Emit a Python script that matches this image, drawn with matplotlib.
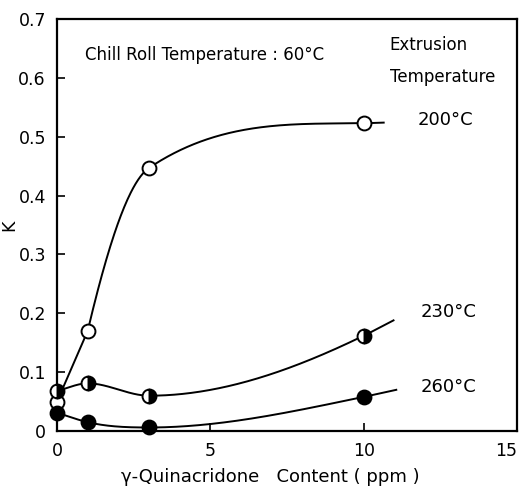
import numpy as np
import matplotlib
matplotlib.use("Agg")
import matplotlib.pyplot as plt

# data
content_ppm = [0, 1, 3, 10]
k_200 = [0.050, 0.170, 0.447, 0.523]
k_230 = [0.068, 0.081, 0.060, 0.162]
k_260 = [0.031, 0.015, 0.006, 0.058]

# hand-drawn curves run a little past the last measured point
tail_x = {"200": 10.65, "230": 10.97, "260": 11.06}
tail_k = {"200": 0.524, "230": 0.188, "260": 0.070}

series_labels = ["200°C", "230°C", "260°C"]


def smooth_curve(x, y, xs, fixed_slopes=None):
    """Cubic Hermite with averaged secant tangents, limited so it doesn't overshoot.
    fixed_slopes: {index: (slope_in, slope_out)} to mimic a kink in the drawn curve."""
    x = np.asarray(x, float)
    y = np.asarray(y, float)
    h = np.diff(x)
    d = np.diff(y) / h
    m = np.zeros_like(y)
    m[0] = d[0]
    m[-1] = d[-1]
    for i in range(1, len(x) - 1):
        if d[i - 1] * d[i] > 0:
            m[i] = (d[i - 1] * h[i] + d[i] * h[i - 1]) / (h[i] + h[i - 1])
    # Fritsch-Carlson limiting
    for i in range(len(d)):
        if d[i] == 0:
            m[i] = m[i + 1] = 0
            continue
        a = m[i] / d[i]
        b = m[i + 1] / d[i]
        s = a * a + b * b
        if s > 9:
            tau = 3 / np.sqrt(s)
            m[i] = tau * a * d[i]
            m[i + 1] = tau * b * d[i]
    m_in = m.copy()
    m_out = m.copy()
    if fixed_slopes:
        for i, (s_in, s_out) in fixed_slopes.items():
            m_in[i] = s_in
            m_out[i] = s_out
    out = np.empty_like(xs)
    for j, xv in enumerate(xs):
        i = int(np.clip(np.searchsorted(x, xv, side="right") - 1, 0, len(x) - 2))
        t = (xv - x[i]) / h[i]
        h00 = 2 * t**3 - 3 * t**2 + 1
        h10 = t**3 - 2 * t**2 + t
        h01 = -2 * t**3 + 3 * t**2
        h11 = t**3 - t**2
        out[j] = (h00 * y[i] + h10 * h[i] * m_out[i]
                  + h01 * y[i + 1] + h11 * h[i] * m_in[i + 1])
    return out


fig = plt.figure(figsize=(5.25, 4.94), dpi=100)
ax = fig.add_axes([0.1086, 0.1275, 0.8764, 0.834])

series = [("200", k_200, dict(fillstyle="full", markerfacecolor="white"),
           {0: (0.12, 0.12), 1: (0.12, 0.22), 2: (0.035, 0.035)}),
          ("230", k_230, dict(fillstyle="right", markerfacecolor="black",
                              markerfacecoloralt="white"), None),
          ("260", k_260, dict(fillstyle="full", markerfacecolor="black"), None)]

for key, k, mstyle, slopes in series:
    xs_pts = content_ppm + [tail_x[key]]
    ys_pts = k + [tail_k[key]]
    xs = np.linspace(0, tail_x[key], 400)
    ax.plot(xs, smooth_curve(xs_pts, ys_pts, xs, slopes), color="black", lw=1.4, zorder=2)
    ax.plot(content_ppm, k, linestyle="none", marker="o", markersize=10,
            markeredgecolor="black", markeredgewidth=1.4, zorder=3,
            clip_on=False, **mstyle)

ax.set_xlim(0, 15)
ax.set_ylim(0, 0.7)
ax.set_xticks([0, 5, 10, 15])
ax.set_yticks([0, 0.1, 0.2, 0.3, 0.4, 0.5, 0.6, 0.7])
ax.set_yticklabels(["0", "0.1", "0.2", "0.3", "0.4", "0.5", "0.6", "0.7"])
ax.tick_params(direction="in", length=6, width=1.2, labelsize=12.5, pad=8)
ax.get_xticklabels()[-1].set_horizontalalignment("right")
for sp in ax.spines.values():
    sp.set_linewidth(1.6)

ax.set_xlabel("γ-Quinacridone   Content ( ppm )", fontsize=13)
ax.xaxis.set_label_coords(0.463, -0.09)
ax.set_ylabel("K", fontsize=12.5)
ax.yaxis.set_label_coords(-0.085, 0.5)

ax.text(0.92, 0.639, "Chill Roll Temperature : 60°C", fontsize=12, va="center")
ax.text(10.85, 0.656, "Extrusion", fontsize=12, va="center")
ax.text(10.85, 0.602, "Temperature", fontsize=12, va="center")
ax.text(11.74, 0.529, series_labels[0], fontsize=13, va="center")
ax.text(11.87, 0.202, series_labels[1], fontsize=13, va="center")
ax.text(11.87, 0.075, series_labels[2], fontsize=13, va="center")

fig.savefig("out.png", dpi=100)
